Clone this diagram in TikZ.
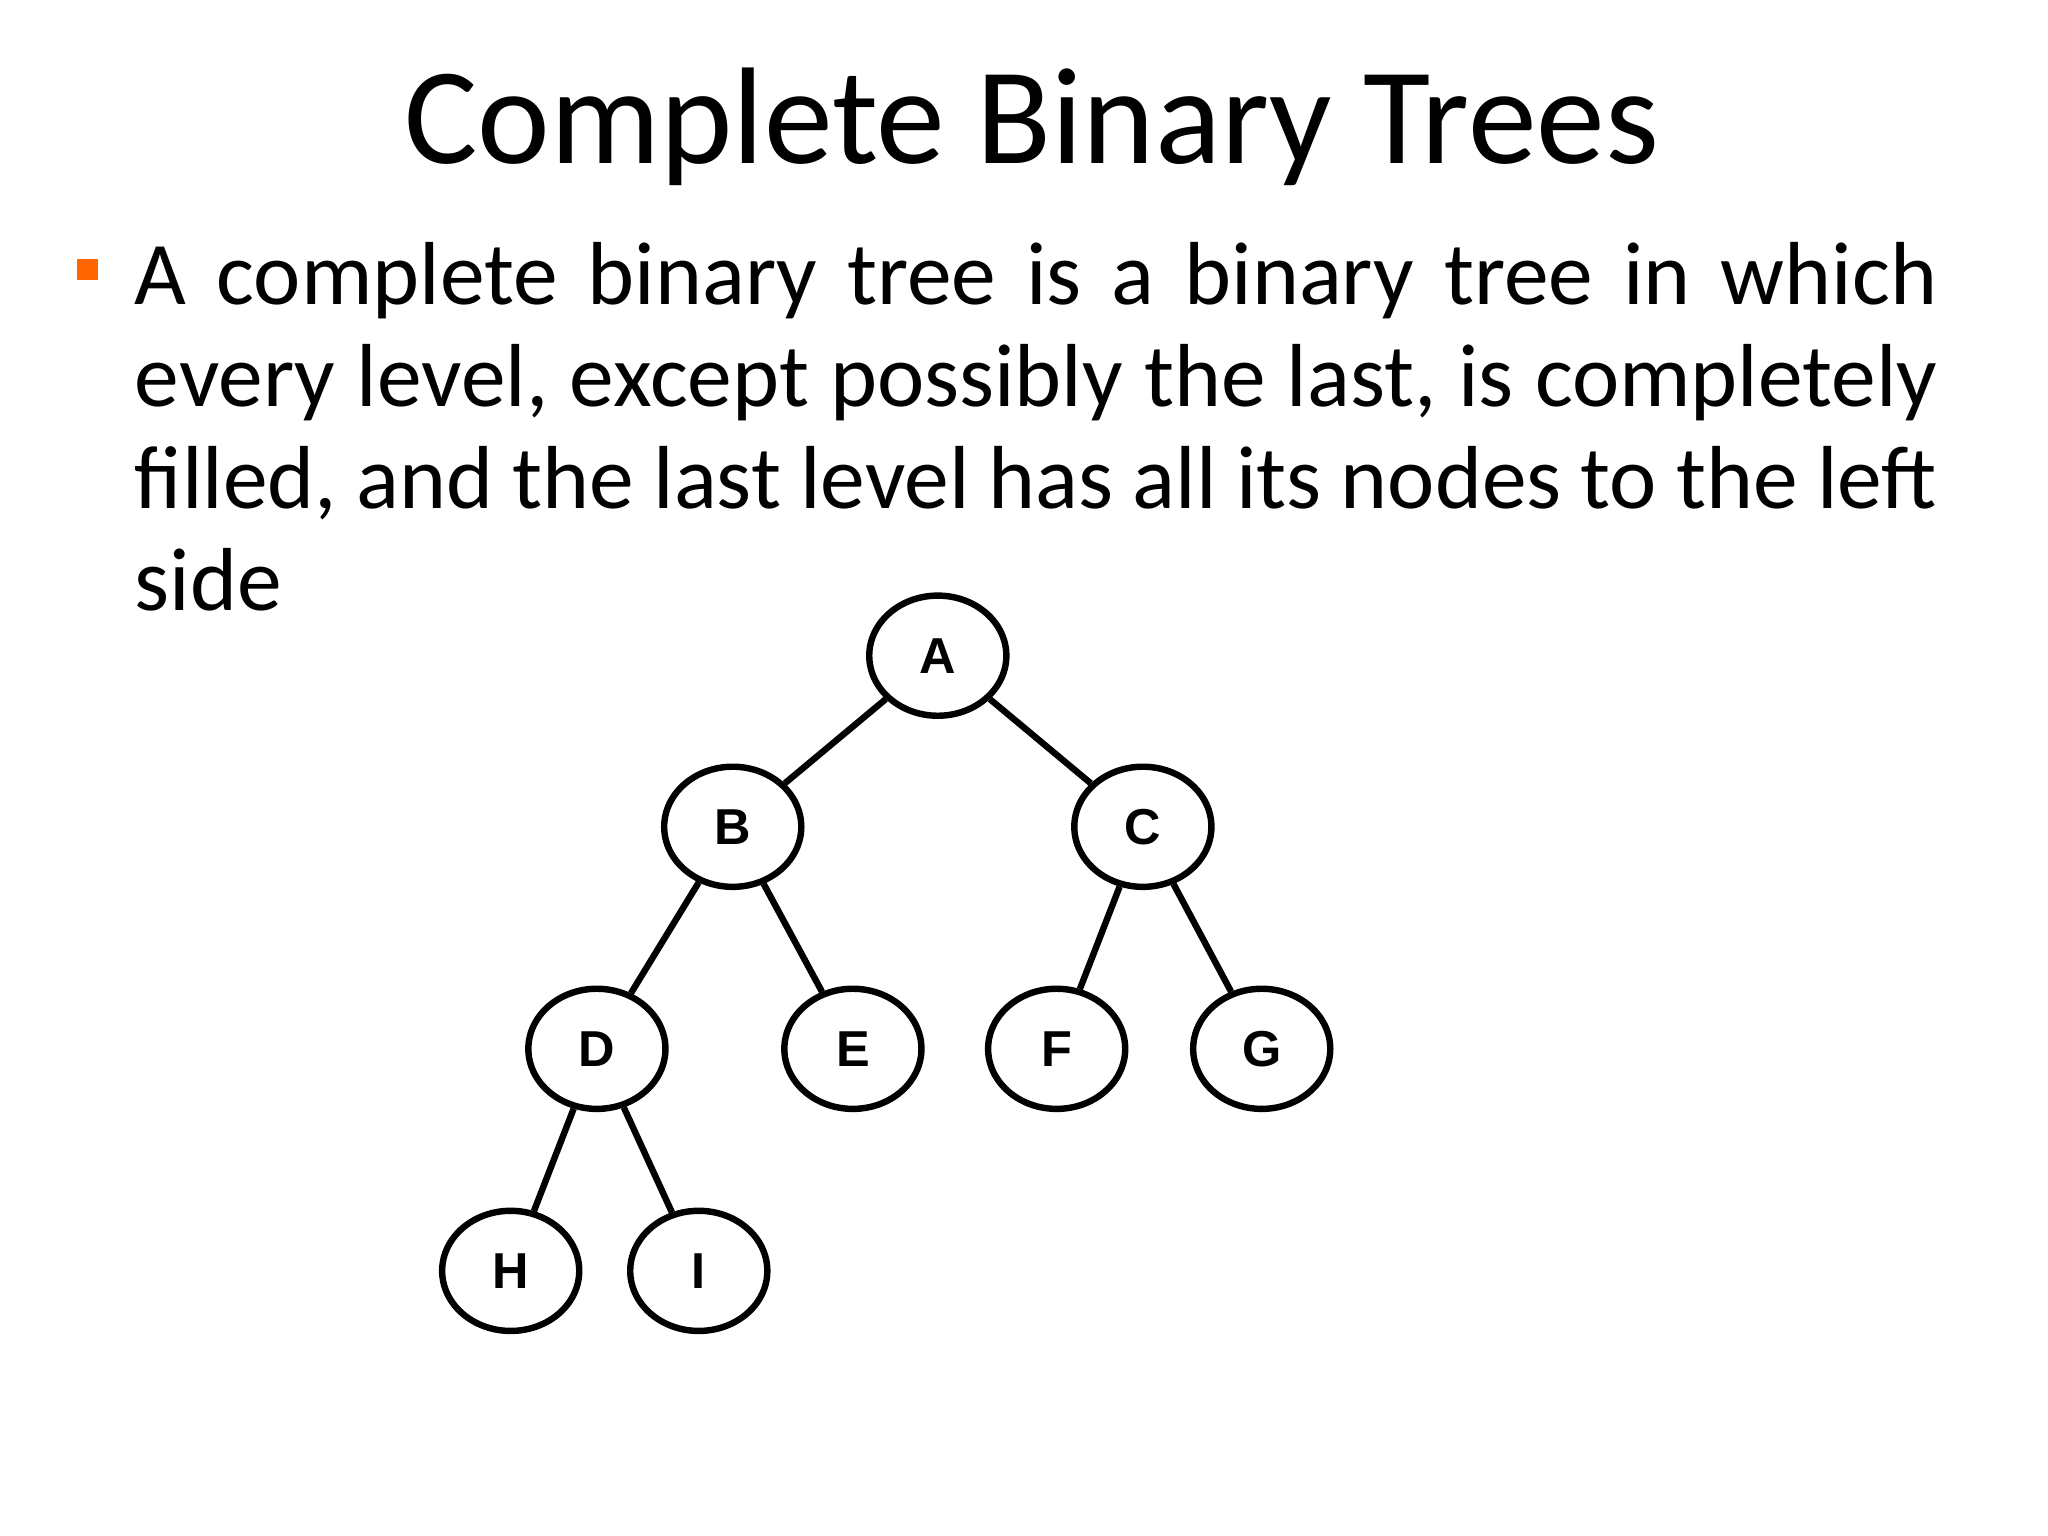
\documentclass[tikz,border=0pt]{standalone}
\usepackage{fontspec}
\setmainfont{Carlito}
\newfontfamily\nodefont{Liberation Sans}
\usetikzlibrary{shapes.geometric}
\begin{document}
\begin{tikzpicture}[x=0.02cm,y=-0.02cm,
  tn/.style={ellipse,draw,line width=2.8pt,minimum width=2.1cm,minimum height=1.84cm,inner sep=0pt,font=\nodefont\bfseries\fontsize{22}{24}\selectfont},
  ed/.style={line width=2.8pt}]
\useasboundingbox (0,0) rectangle (1568,1176);
\node (title) at (790,97) {\fontsize{60}{66}\selectfont Complete Binary Trees};
\fill[orange!80!red] (59,198) rectangle (75,214);
\node (body) [anchor=north west,text width=27.6cm,inner sep=0pt,align=justify,font=\fontsize{39}{44.5}\selectfont] at (103,185)
 {A complete binary tree is a binary tree in which every level, except possibly the last, is completely filled, and the last level has all its nodes to the left side};
\node[tn] (A) at (718,502) {A};
\node[tn] (B) at (561,633) {B};
\node[tn] (C) at (875,633) {C};
\node[tn] (D) at (457,803) {D};
\node[tn] (E) at (653,803) {E};
\node[tn] (F) at (809,803) {F};
\node[tn] (G) at (966,803) {G};
\node[tn] (H) at (391,973) {H};
\node[tn] (I) at (535,973) {I};
\draw[ed] (A) -- (B); \draw[ed] (A) -- (C);
\draw[ed] (B) -- (D); \draw[ed] (B) -- (E);
\draw[ed] (C) -- (F); \draw[ed] (C) -- (G);
\draw[ed] (D) -- (H); \draw[ed] (D) -- (I);
\end{tikzpicture}
\end{document}
